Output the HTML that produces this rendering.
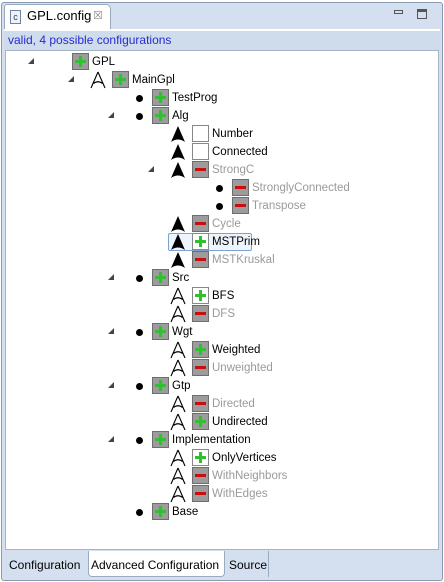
<!DOCTYPE html>
<html><head><meta charset="utf-8"><style>
*{margin:0;padding:0;box-sizing:border-box}
body{width:444px;height:582px;background:#fff;position:relative;overflow:hidden;font-family:"Liberation Sans",sans-serif;font-size:11.5px;color:#000}
.a{position:absolute}
.r{position:absolute;left:0;width:440px;height:18px}
.t{position:absolute;top:3px;line-height:14px;white-space:nowrap}
.g{color:#9a9a9a}
.b{position:absolute;top:1px;width:17px;height:17px;background:#9c9c9c;border:1px solid #6e6e6e}
.w{background:#fff;border:1px solid #888}
.p::before{content:"";position:absolute;left:6px;top:2px;width:3px;height:11px;background:#2fc02f}
.p::after{content:"";position:absolute;left:2px;top:6px;width:11px;height:3px;background:#2fc02f}
.m::after{content:"";position:absolute;left:2px;top:6px;width:11px;height:3px;background:#c80e0e}
.d{position:absolute;top:7px;width:7px;height:7px;border-radius:50%;background:#000}
.e{position:absolute;top:6px;width:0;height:0;border-left:6px solid transparent;border-bottom:6px solid #444}
.s{position:absolute;top:1px}
</style></head><body>
<div class="a" style="left:1px;top:2px;width:442px;height:579px;border:1px solid #8a9ab0;border-radius:3px;background:#d4e0ef"></div>
<div class="a" style="left:4px;top:4px;width:107px;height:26px;background:#fff;border:1px solid #9aabc0;border-bottom:none;border-radius:3px 5px 0 0"></div>
<div class="a" style="left:10px;top:10px;width:11px;height:14px;border:1px solid #7080a0;background:#eef2fa;font-size:9px;line-height:12px;text-align:center;color:#334">c</div>
<div class="a" style="left:27px;top:8px;font-size:13px">GPL.config</div>
<div class="a" style="left:93px;top:9px;font-size:11px;color:#888">&#x2612;</div>
<div class="a" style="left:394px;top:10px;width:9px;height:4px;border:1px solid #555"></div>
<div class="a" style="left:417px;top:9px;width:10px;height:10px;border:1px solid #555;border-top:3px solid #555"></div>
<div class="a" style="left:4px;top:29px;width:436px;height:22px;background:#cfdcec;border-top:2px solid #fff"></div>
<div class="a" style="left:8px;top:33px;font-size:12px;color:#2a2ad0">valid, 4 possible configurations</div>
<div class="a" style="left:5px;top:50px;width:434px;height:500px;background:#fff;border:1px solid #a8b4c4"></div>
<div class="a" style="left:88px;top:551px;width:137px;height:26px;background:#fff;border:1px solid #9aabc0;border-top:none;border-radius:0 0 4px 4px"></div>
<div class="a" style="left:225px;top:551px;width:44px;height:26px;border-right:1px solid #9aabc0"></div>
<div class="a" style="left:9px;top:558px;font-size:12px">Configuration</div>
<div class="a" style="left:91px;top:558px;font-size:12px">Advanced Configuration</div>
<div class="a" style="left:229px;top:558px;font-size:12px">Source</div>

<svg width="0" height="0" style="position:absolute"><defs>
<g id="alt"><path d="M8 1L1 17M8 1L15 17M3.5 12.5Q8 9 12.5 12.5" stroke="#000" stroke-width="1.1" fill="none"/></g>
<g id="or"><path d="M8 1L1 17Q8 12 15 17Z" fill="#000"/></g>
</defs></svg>

<div class="r" style="top:52px"><div class="e" style="left:28px"></div><div class="b p" style="left:72px"></div><div class="t" style="left:92px">GPL</div></div>
<div class="r" style="top:70px"><div class="e" style="left:68px"></div><svg class="s" style="left:90px" width="16" height="18"><use href="#alt"/></svg><div class="b p" style="left:112px"></div><div class="t" style="left:132px">MainGpl</div></div>
<div class="r" style="top:88px"><div class="d" style="left:136px"></div><div class="b p" style="left:152px"></div><div class="t" style="left:172px">TestProg</div></div>
<div class="r" style="top:106px"><div class="e" style="left:108px"></div><div class="d" style="left:136px"></div><div class="b p" style="left:152px"></div><div class="t" style="left:172px">Alg</div></div>
<div class="r" style="top:124px"><svg class="s" style="left:170px" width="16" height="18"><use href="#or"/></svg><div class="b w" style="left:192px"></div><div class="t" style="left:212px">Number</div></div>
<div class="r" style="top:142px"><svg class="s" style="left:170px" width="16" height="18"><use href="#or"/></svg><div class="b w" style="left:192px"></div><div class="t" style="left:212px">Connected</div></div>
<div class="r" style="top:160px"><div class="e" style="left:148px"></div><svg class="s" style="left:170px" width="16" height="18"><use href="#or"/></svg><div class="b m" style="left:192px"></div><div class="t g" style="left:212px">StrongC</div></div>
<div class="r" style="top:178px"><div class="d" style="left:216px"></div><div class="b m" style="left:232px"></div><div class="t g" style="left:252px">StronglyConnected</div></div>
<div class="r" style="top:196px"><div class="d" style="left:216px"></div><div class="b m" style="left:232px"></div><div class="t g" style="left:252px">Transpose</div></div>
<div class="r" style="top:214px"><svg class="s" style="left:170px" width="16" height="18"><use href="#or"/></svg><div class="b m" style="left:192px"></div><div class="t g" style="left:212px">Cycle</div></div>
<div class="r" style="top:232px"><div class="a" style="left:168px;top:1px;width:84px;height:18px;border:1px solid #7da2ce;border-radius:2px;background:#eef4fc"></div><svg class="s" style="left:170px" width="16" height="18"><use href="#or"/></svg><div class="b w p" style="left:192px"></div><div class="t" style="left:212px">MSTPrim</div></div>
<div class="r" style="top:250px"><svg class="s" style="left:170px" width="16" height="18"><use href="#or"/></svg><div class="b m" style="left:192px"></div><div class="t g" style="left:212px">MSTKruskal</div></div>
<div class="r" style="top:268px"><div class="e" style="left:108px"></div><div class="d" style="left:136px"></div><div class="b p" style="left:152px"></div><div class="t" style="left:172px">Src</div></div>
<div class="r" style="top:286px"><svg class="s" style="left:170px" width="16" height="18"><use href="#alt"/></svg><div class="b w p" style="left:192px"></div><div class="t" style="left:212px">BFS</div></div>
<div class="r" style="top:304px"><svg class="s" style="left:170px" width="16" height="18"><use href="#alt"/></svg><div class="b m" style="left:192px"></div><div class="t g" style="left:212px">DFS</div></div>
<div class="r" style="top:322px"><div class="e" style="left:108px"></div><div class="d" style="left:136px"></div><div class="b p" style="left:152px"></div><div class="t" style="left:172px">Wgt</div></div>
<div class="r" style="top:340px"><svg class="s" style="left:170px" width="16" height="18"><use href="#alt"/></svg><div class="b p" style="left:192px"></div><div class="t" style="left:212px">Weighted</div></div>
<div class="r" style="top:358px"><svg class="s" style="left:170px" width="16" height="18"><use href="#alt"/></svg><div class="b m" style="left:192px"></div><div class="t g" style="left:212px">Unweighted</div></div>
<div class="r" style="top:376px"><div class="e" style="left:108px"></div><div class="d" style="left:136px"></div><div class="b p" style="left:152px"></div><div class="t" style="left:172px">Gtp</div></div>
<div class="r" style="top:394px"><svg class="s" style="left:170px" width="16" height="18"><use href="#alt"/></svg><div class="b m" style="left:192px"></div><div class="t g" style="left:212px">Directed</div></div>
<div class="r" style="top:412px"><svg class="s" style="left:170px" width="16" height="18"><use href="#alt"/></svg><div class="b p" style="left:192px"></div><div class="t" style="left:212px">Undirected</div></div>
<div class="r" style="top:430px"><div class="e" style="left:108px"></div><div class="d" style="left:136px"></div><div class="b p" style="left:152px"></div><div class="t" style="left:172px">Implementation</div></div>
<div class="r" style="top:448px"><svg class="s" style="left:170px" width="16" height="18"><use href="#alt"/></svg><div class="b w p" style="left:192px"></div><div class="t" style="left:212px">OnlyVertices</div></div>
<div class="r" style="top:466px"><svg class="s" style="left:170px" width="16" height="18"><use href="#alt"/></svg><div class="b m" style="left:192px"></div><div class="t g" style="left:212px">WithNeighbors</div></div>
<div class="r" style="top:484px"><svg class="s" style="left:170px" width="16" height="18"><use href="#alt"/></svg><div class="b m" style="left:192px"></div><div class="t g" style="left:212px">WithEdges</div></div>
<div class="r" style="top:502px"><div class="d" style="left:136px"></div><div class="b p" style="left:152px"></div><div class="t" style="left:172px">Base</div></div>
</body></html>
